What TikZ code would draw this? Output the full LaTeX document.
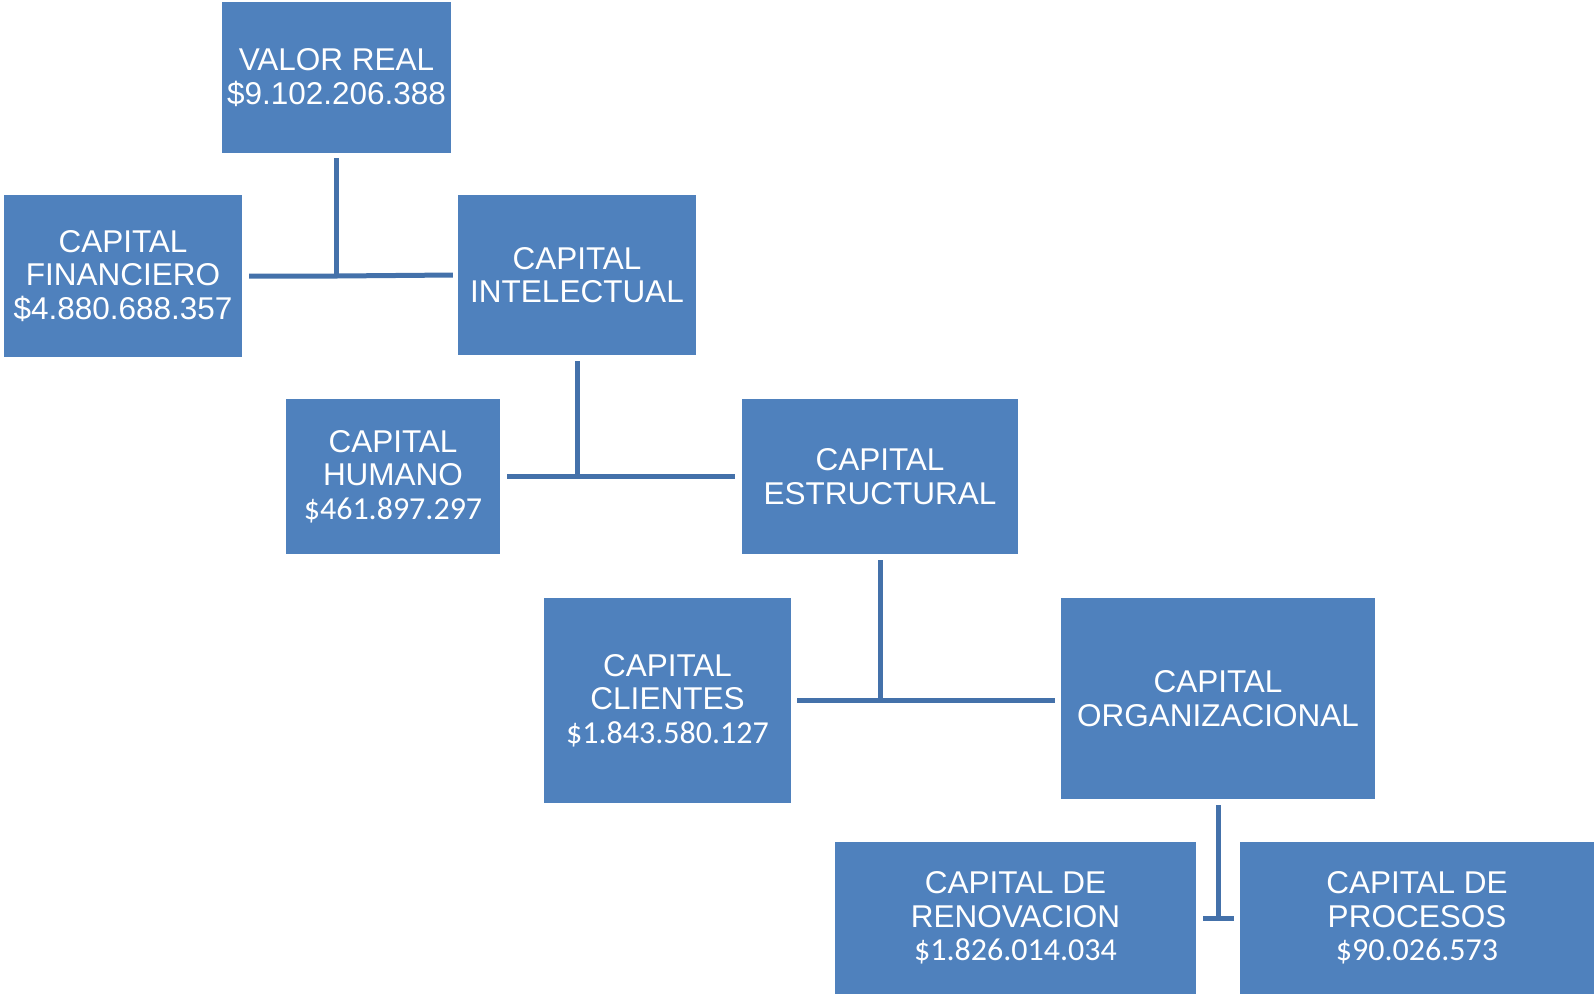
\documentclass[tikz,border=0pt]{standalone}
\usepackage{fontspec}
\setmainfont{Liberation Sans}
\newfontfamily\numfont{Carlito}
\newcommand{\numtxt}[1]{{\numfont\fontsize{32}{33.5}\selectfont #1}}
\definecolor{boxblue}{HTML}{4F81BD}
\definecolor{lineblue}{HTML}{4471AA}
\begin{document}
\begin{tikzpicture}[x=1pt,y=-1pt,
  cbox/.style={fill=boxblue, draw=none, text=white, align=center, inner sep=0pt,
    font=\fontsize{31.5}{33.5}\selectfont},
  conn/.style={draw=lineblue, line width=5pt}]
\useasboundingbox (0,0) rectangle (1595,994);
\node[cbox, minimum width=229pt, minimum height=151pt] (valor) at (336.5,77.5) {VALOR REAL\\\$9.102.206.388};
\node[cbox, minimum width=238pt, minimum height=162pt] (fin) at (123,276) {CAPITAL\\FINANCIERO\\\$4.880.688.357};
\node[cbox, minimum width=238pt, minimum height=160pt] (int) at (577,275) {CAPITAL\\INTELECTUAL};
\node[cbox, minimum width=214pt, minimum height=155pt] (hum) at (393,476.5) {CAPITAL\\HUMANO\\\numtxt{\$461.897.297}};
\node[cbox, minimum width=276pt, minimum height=155pt] (est) at (880,476.5) {CAPITAL\\ESTRUCTURAL};
\node[cbox, minimum width=247pt, minimum height=205pt] (cli) at (667.5,700.5) {CAPITAL\\CLIENTES\\\numtxt{\$1.843.580.127}};
\node[cbox, minimum width=314pt, minimum height=201pt] (org) at (1218,698.5) {CAPITAL\\ORGANIZACIONAL};
\node[cbox, minimum width=361pt, minimum height=152pt] (ren) at (1015.5,918) {CAPITAL DE\\RENOVACION\\\numtxt{\$1.826.014.034}};
\node[cbox, minimum width=354pt, minimum height=152pt] (pro) at (1417,918) {CAPITAL DE\\PROCESOS\\\numtxt{\$90.026.573}};
% connectors
\coordinate (j1) at (valor.south |- fin.east);
\draw[conn] ([yshift=-5pt]valor.south) -- (j1);
\draw[conn] ([xshift=7pt]fin.east) -- (j1) -- ([xshift=-5pt]int.west);
\coordinate (j2) at (int.south |- hum.east);
\draw[conn] ([yshift=-6pt]int.south) -- (j2);
\draw[conn] ([xshift=7pt]hum.east) -- (j2) -- ([xshift=-7pt]est.west);
\coordinate (j3) at (est.south |- cli.east);
\draw[conn] ([yshift=-6pt]est.south) -- (j3);
\draw[conn] ([xshift=6pt]cli.east) -- (j3) -- ([xshift=-6pt]org.west |- cli.east);
\coordinate (j4) at (org.south |- ren.east);
\draw[conn] ([yshift=-6pt]org.south) -- (j4);
\draw[conn] ([xshift=7pt]ren.east) -- ([xshift=-6pt]pro.west);
\end{tikzpicture}
\end{document}
